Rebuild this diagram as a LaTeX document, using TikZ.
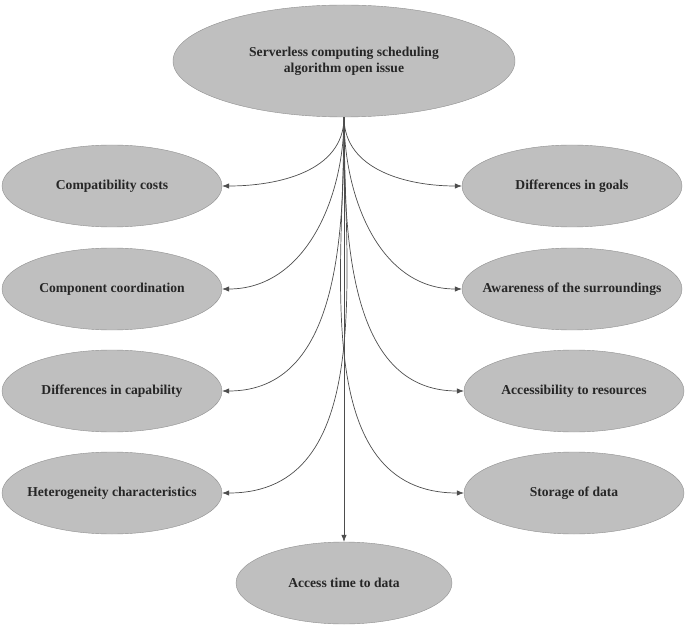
\documentclass[tikz,border=0pt]{standalone}
\usepackage{fontspec}
\setmainfont{Liberation Serif}
\usetikzlibrary{arrows.meta,shapes.geometric}
\definecolor{Relleno}{HTML}{BFBFBF}
\definecolor{Borde}{HTML}{8F8F8F}
\definecolor{Linea}{HTML}{4D4D4D}

\begin{document}
\begin{tikzpicture}[
  x=1pt,y=-1pt,
  every node/.style={font=\fontsize{13.6}{16}\selectfont\bfseries,text=black!85},
  issue/.style={ellipse,draw=Borde,fill=Relleno,thin,inner xsep=-40pt,inner ysep=0pt,
    minimum width=220pt,minimum height=82pt,align=center},
  link/.style={-{Latex[length=7pt,width=5.5pt]},draw=Linea,line width=0.7pt}
]
  \useasboundingbox (0,0) rectangle (685,628);

  \node[issue,minimum width=342pt,minimum height=112pt] (root) at (344,61)
    {Serverless computing scheduling\\algorithm open issue};

  % izquierda
  \node[issue] (costs) at (112,186) {Compatibility costs};
  \node[issue] (coord) at (112,289) {Component coordination};
  \node[issue] (capab) at (112,391) {Differences in capability};
  \node[issue] (heter) at (112,493) {Heterogeneity characteristics};

  % derecha
  \node[issue] (goals) at (572,186) {Differences in goals};
  \node[issue] (aware) at (572,289) {Awareness of the surroundings};
  \node[issue] (resou) at (574,391) {Accessibility to resources};
  \node[issue] (store) at (574,493) {Storage of data};

  \node[issue,minimum width=216pt] (access) at (344,583) {Access time to data};

  \draw[link] (root.south) to[out=-90,in=0] (costs.east);
  \draw[link] (root.south) to[out=-90,in=0] (coord.east);
  \draw[link] (root.south) to[out=-90,in=0] (capab.east);
  \draw[link] (root.south) to[out=-90,in=0] (heter.east);
  \draw[link] (root.south) to[out=-90,in=180] (goals.west);
  \draw[link] (root.south) to[out=-90,in=180] (aware.west);
  \draw[link] (root.south) to[out=-90,in=180] (resou.west);
  \draw[link] (root.south) to[out=-90,in=180] (store.west);
  \draw[link] (root.south) -- (access.north);
\end{tikzpicture}
\end{document}
